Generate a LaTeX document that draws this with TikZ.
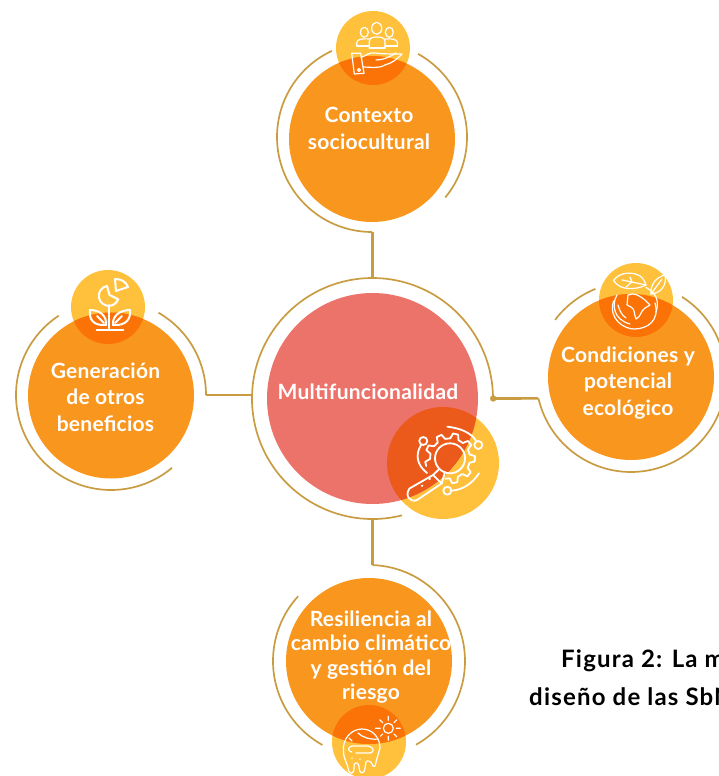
\documentclass[tikz,border=0pt]{standalone}
\usepackage{fontspec}
\setmainfont{Lato}
\usepackage{tikz}
\usetikzlibrary{positioning}

\definecolor{mainorange}{HTML}{F9961E}
\definecolor{iconyellow}{HTML}{FFC13C}
\definecolor{deeporange}{HTML}{FB7207}
\definecolor{mainpink}{HTML}{EC736A}
\definecolor{deeppink}{HTML}{EB5A1A}
\definecolor{ringgold}{HTML}{C99C42}

\tikzset{
	bigcircle/.style={circle, inner sep=0, fill=mainorange, minimum size=166pt},
	iconcircle/.style={circle, inner sep=0, fill=iconyellow, minimum size=74pt},
	ringshape/.style={circle, inner sep=0, minimum size=190pt},
	ringline/.style={draw=ringgold, line width=1.7pt},
	linkline/.style={draw=ringgold, line width=2.6pt},
	iconline/.style={draw=white, line width=1.8pt, line cap=round, line join=round},
	thinicon/.style={iconline, line width=1.2pt},
	circtext/.style={text=white, align=center, font=\bfseries\fontsize{21}{26.5}\selectfont\addfontfeature{LetterSpace=1.2}},
	captiontext/.style={text=black, anchor=west, inner sep=0, font=\bfseries\fontsize{24}{24}\selectfont\addfontfeature{LetterSpace=5}}
}

\begin{document}
\begin{tikzpicture}[x=1pt, y=-1pt]
	\useasboundingbox (0, 0) rectangle (718, 776);

	% yellow circles go under the big ones
	\node[iconcircle] (topicon) at (373, 48) {};
	\node[iconcircle] (righticon) at (636, 300) {};
	\node[iconcircle] (lefticon) at (108, 307) {};
	\node[iconcircle] (boticon) at (369, 742) {};
	\node[iconcircle, minimum size=112pt] (midicon) at (443, 463) {};

	\node[bigcircle] (top) at (372, 139) {};
	\node[bigcircle] (right) at (631, 377) {};
	\node[bigcircle] (left) at (111, 395.5) {};
	\node[bigcircle] (bot) at (369, 661) {};
	\node[bigcircle, fill=mainpink, minimum size=211pt] (mid) at (372.5, 398.5) {};

	% overlaps
	\begin{scope}
		\clip (top) circle (83);
		\fill[deeporange] (topicon) circle (37);
	\end{scope}
	\begin{scope}
		\clip (right) circle (83);
		\fill[deeporange] (righticon) circle (37);
	\end{scope}
	\begin{scope}
		\clip (left) circle (83);
		\fill[deeporange] (lefticon) circle (37);
	\end{scope}
	\begin{scope}
		\clip (bot) circle (83);
		\fill[deeporange] (boticon) circle (37);
	\end{scope}
	\begin{scope}
		\clip (mid) circle (105.5);
		\fill[deeppink] (midicon) circle (56);
	\end{scope}

	% rings
	\node[ringshape] (topring) at (372, 137) {};
	\node[ringshape] (rightring) at (631, 377) {};
	\node[ringshape] (leftring) at (111, 395) {};
	\node[ringshape, minimum size=192pt] (botring) at (369, 661) {};
	\node[ringshape, minimum size=241pt] (midring) at (372.5, 398.5) {};

	\draw[ringline] (topring.center) ++(-61:95) arc[start angle=-61, end angle=39.5, radius=95];
	\draw[ringline] (topring.center) ++(90:95) arc[start angle=90, end angle=245, radius=95];
	\draw[ringline] (midring.center) ++(75.8:120.5) arc[start angle=75.8, end angle=360, radius=120.5];
	\draw[ringline] (rightring.center) ++(-57.5:95) arc[start angle=-57.5, end angle=167, radius=95];
	\draw[ringline] (rightring.center) ++(217:95) arc[start angle=217, end angle=248, radius=95];
	\draw[ringline] (leftring.center) ++(-60:95) arc[start angle=-60, end angle=0, radius=95];
	\draw[ringline] (leftring.center) ++(50:95) arc[start angle=50, end angle=236.6, radius=95];
	\draw[ringline] (botring.center) ++(-88:96) arc[start angle=-88, end angle=60.7, radius=96];
	\draw[ringline] (botring.center) ++(119:96) arc[start angle=119, end angle=222.4, radius=96];

	% links
	\draw[linkline] (topring.south -| midring.north) -- (midring.north);
	\draw[linkline] (leftring.east) -- (leftring.east -| midring.west);
	\draw[linkline] (midring.east) -- (rightring.193);
	\draw[linkline] (midring.south) -- (midring.south |- botring.north);
	\fill[ringgold] (midring.east) circle (3.2);

	% texts
	\node[circtext] (toptext) at (369, 128.5) {Contexto\\sociocultural};
	\node[circtext] (righttext) at (628, 383) {Condiciones y\\potencial\\ecológico};
	\node[circtext] (lefttext) at (105.5, 397) {Generación\\de otros\\beneficios};
	\node[circtext, font=\bfseries\fontsize{21}{24.5}\selectfont\addfontfeature{LetterSpace=1.2}] (bottext) at (371, 657) {Resiliencia al\\cambio climático\\y gestión del\\riesgo};
	\node[circtext] (midtext) at (368, 392) {Multifuncionalidad};
	\node[captiontext] (caption1) at (561, 661) {Figura 2: La m};
	\node[captiontext] (caption2) at (529, 697) {diseño de las SbN};

	% people and hand
	\draw[thinicon] (364.3, 32.3) ellipse (4 and 5);
	\draw[thinicon] (376.7, 28.3) ellipse (5 and 6);
	\draw[thinicon] (389.3, 32.3) ellipse (4 and 5);
	\draw[thinicon] (369.3, 48) -- (369.3, 42) .. controls (369.3, 38) and (372, 37) .. (376.7, 37) .. controls (382, 37) and (385, 38) .. (385, 42) -- (385, 48);
	\draw[thinicon] (356.7, 46) -- (356.7, 43) .. controls (356.7, 39) and (362, 38.5) .. (369.3, 39);
	\draw[thinicon] (397.5, 46) -- (397.5, 43) .. controls (397.5, 39) and (392, 38.5) .. (385, 39);
	\draw[thinicon] (356.7, 46) -- (369.3, 46) (385, 46) -- (397.5, 46) (369.3, 48) -- (385, 48);
	\draw[thinicon] (351.7, 53.3) -- (360.7, 53.3) -- (364, 73.3) -- (354.3, 74) -- cycle;
	\draw[thinicon] (359, 70) circle (1.5);
	\draw[thinicon] (361, 57.5) .. controls (367, 55) and (370, 52) .. (375, 53) .. controls (382, 54) and (392, 54) .. (402, 54) .. controls (396, 60) and (392, 63) .. (385, 65) .. controls (378, 69) and (370, 67) .. (363.5, 67);
	\draw[thinicon] (376, 60) .. controls (382, 60) and (388, 58) .. (396, 53);

	% magnifier and gear
	\begin{scope}[shift={(450, 458.3)}]
		\draw[iconline] (162:25) -- (172:25) -- (178:20) -- (193:20) -- (199:25) -- (211:25) -- (217:20) -- (232:20) -- (238:25) -- (250:25) -- (256:20) -- (271:20) -- (277:25) -- (289:25) -- (295:20) -- (310:20) -- (316:25) -- (328:25) -- (334:20) -- (349:20) -- (355:25) -- (367:25) -- (373:20) -- (388:20) -- (394:25) -- (406:25) -- (412:20) -- (427:20) -- (433:25) -- (445:25) -- (451:20) -- (463:21);
		\draw[iconline] (0, 0) circle (15);
	\end{scope}
	\draw[iconline] (433, 475) -- (441.7, 483.5) -- (417, 500) .. controls (411, 503) and (404, 496) .. (409.5, 488.5) -- cycle;
	\draw[iconline] (433, 475) -- (439.4, 469);
	\draw[iconline] (441.7, 483.5) -- (445, 472);
	\draw[iconline] (421.7, 486) -- (422.5, 485.5) (429.3, 479.3) -- (430, 478.8);
	\draw[iconline] (423.3, 441) circle (4);
	\draw[iconline] (421, 445) .. controls (415, 455) and (417, 465) .. (427, 473);
	\draw[iconline] (447.3, 426.7) .. controls (460, 428) and (472, 433) .. (476.5, 441.5);
	\draw[iconline] (478.3, 445) circle (4);
	\draw[iconline] (479, 473.3) .. controls (472, 484) and (462, 490) .. (451.5, 490.7);
	\draw[iconline] (447.3, 490.7) circle (4);

	% earth and leaves
	\draw[thinicon] (613.5, 301) .. controls (608, 320) and (625, 329) .. (634, 329) .. controls (648, 329) and (660, 320) .. (655, 303);
	\draw[thinicon] (646, 287.5) .. controls (655, 292) and (660, 300) .. (656, 312);
	\draw[thinicon] (617, 295) .. controls (611, 305) and (614, 320) .. (630, 324) (618, 305) .. controls (620, 312) and (622, 315) .. (626, 318);
	\draw[thinicon] (628, 295) .. controls (634, 292) and (640, 296) .. (645, 300) -- (650, 305) -- (645, 308) .. controls (641, 310) and (641, 317) .. (636, 319) .. controls (634, 314) and (635, 309) .. (631, 307) -- (627, 305) -- cycle;
	\draw[thinicon] (613.5, 280.5) .. controls (620, 271) and (634, 272) .. (640, 276) .. controls (644, 279) and (645, 282) .. (646, 285) .. controls (636, 290) and (620, 291) .. (613.5, 280.5) -- cycle;
	\draw[thinicon] (622, 280) -- (646, 285) (630, 277) -- (632, 282) (626, 287) -- (632, 282);
	\draw[thinicon] (651, 294) .. controls (650, 285) and (656, 277) .. (665, 275) .. controls (667, 284) and (662, 293) .. (651, 294) -- cycle;
	\draw[thinicon] (651, 294) -- (662, 279);

	% plant
	\draw[iconline, line width=2pt] (107, 286) arc[start angle=-100, end angle=-340, radius=10] -- (109.5, 295) -- cycle;
	\draw[iconline, line width=2pt] (115, 279) .. controls (122, 279) and (126, 282) .. (128, 287) -- (116, 291) -- cycle;
	\draw[iconline, line width=2pt] (109.3, 305) -- (109.3, 330);
	\draw[iconline, line width=2pt] (96.7, 330) -- (123.3, 330);
	\draw[iconline, line width=2pt] (106, 325) .. controls (92, 326) and (89, 318) .. (90, 310) .. controls (100, 310) and (107, 316) .. (106, 325) -- cycle;
	\draw[iconline, line width=2pt] (113, 325) .. controls (127, 326) and (131, 318) .. (130, 310) .. controls (120, 310) and (112, 316) .. (113, 325) -- cycle;
	\draw[iconline, line width=2pt] (104, 323) -- (97, 316) (115, 323) -- (122, 316);

	% melting earth and sun
	\begin{scope}[shift={(388.3, 728.3)}]
		\draw[thinicon] (0, 0) circle (5);
		\draw[thinicon] (0:8) -- (0:12) (45:8) -- (45:12) (90:8) -- (90:12) (135:8) -- (135:11) (180:8) -- (180:13) (225:8) -- (225:12) (270:8) -- (270:12) (315:8) -- (315:12);
	\end{scope}
	\draw[thinicon] (343.5, 752) .. controls (342, 738) and (352, 729) .. (362, 729) .. controls (372, 729) and (380, 737) .. (380, 748);
	\draw[thinicon] (343.5, 752) .. controls (344, 760) and (347, 762) .. (348, 768) .. controls (349, 775) and (354, 775) .. (354, 768) -- (354, 765) .. controls (355, 762) and (358, 762) .. (359, 766) .. controls (359, 775) and (364, 775) .. (365, 768) -- (366, 762) .. controls (367, 760) and (371, 761) .. (372, 764) .. controls (373, 768) and (376, 767) .. (376, 762) -- (380, 748);
	\draw[thinicon] (352, 752) .. controls (348, 752) and (347, 747) .. (352, 746) -- (368, 746) .. controls (374, 747) and (375, 752) .. (370, 753) -- (356, 753);
	\draw[thinicon] (358, 733) .. controls (362, 737) and (370, 740) .. (378, 739);
	\draw[thinicon] (349, 738) -- (352, 741) (360, 759) -- (360, 759.5) (352, 758) -- (352, 758.5);
\end{tikzpicture}
\end{document}
